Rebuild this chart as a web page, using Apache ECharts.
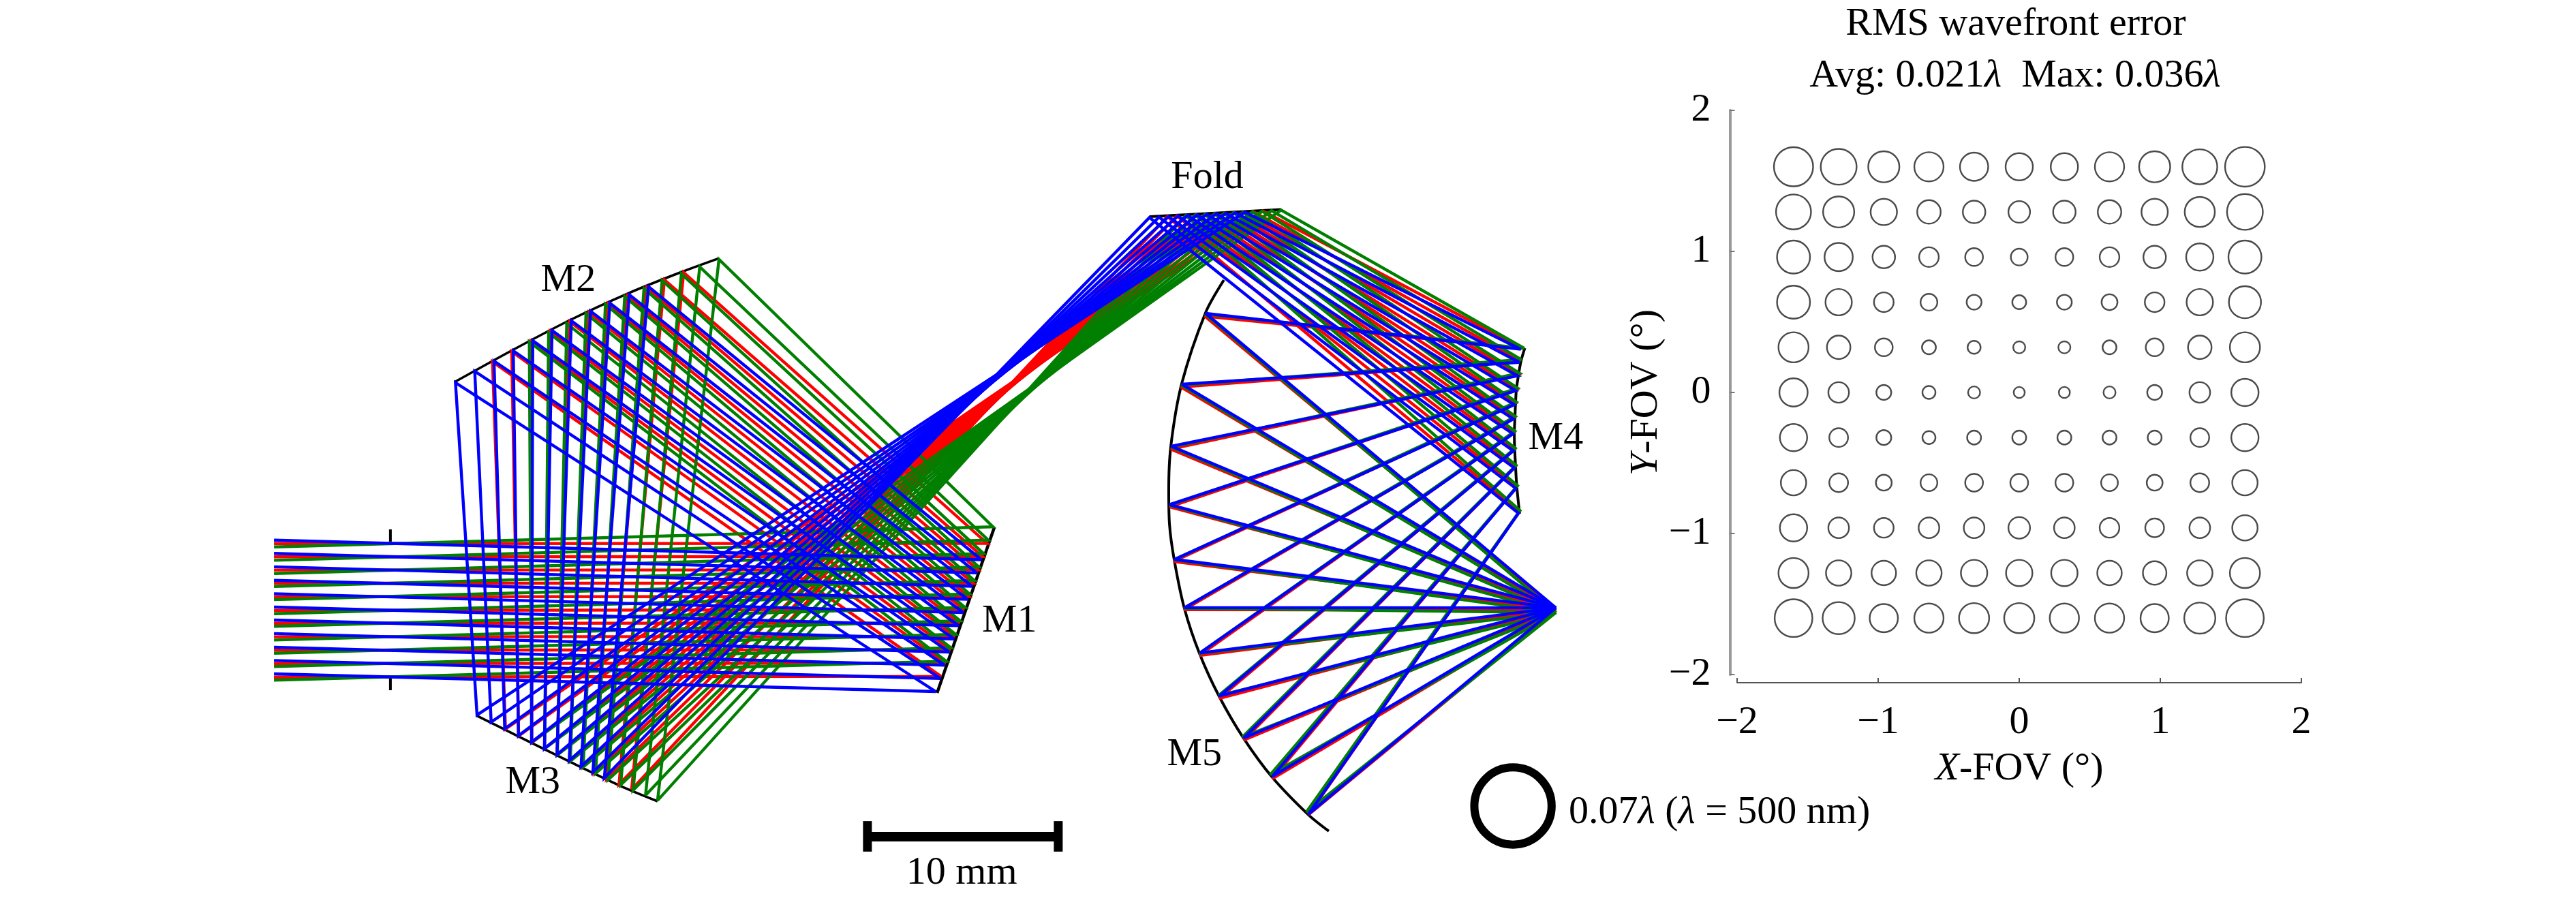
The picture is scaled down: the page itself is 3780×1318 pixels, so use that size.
<!DOCTYPE html>
<html><head><meta charset="utf-8">
<style>html,body{margin:0;padding:0;background:#fff}#c{width:3780px;height:1318px}</style>
<script src="https://cdn.jsdelivr.net/npm/echarts@6/dist/echarts.min.js"></script>
</head><body><div id="c"></div>
<script>
// ---------- RMS wavefront map ----------
const xFov = [-1.6,-1.28,-0.96,-0.64,-0.32,0,0.32,0.64,0.96,1.28,1.6];
const yFov = [1.6,1.28,0.96,0.64,0.32,0,-0.32,-0.64,-0.96,-1.28,-1.6];
const rmsWave = [
 [0.0355,0.0325,0.0282,0.0265,0.0256,0.0247,0.0247,0.0265,0.0282,0.0317,0.0360],
 [0.0317,0.0282,0.0239,0.0213,0.0204,0.0196,0.0204,0.0213,0.0239,0.0273,0.0325],
 [0.0299,0.0256,0.0204,0.0178,0.0161,0.0152,0.0161,0.0178,0.0204,0.0247,0.0299],
 [0.0299,0.0239,0.0178,0.0152,0.0135,0.0126,0.0135,0.0144,0.0178,0.0239,0.0291],
 [0.0273,0.0213,0.0161,0.0126,0.0118,0.0109,0.0109,0.0126,0.0161,0.0213,0.0273],
 [0.0256,0.0187,0.0135,0.0118,0.0109,0.0100,0.0100,0.0109,0.0135,0.0187,0.0247],
 [0.0247,0.0170,0.0135,0.0118,0.0126,0.0126,0.0126,0.0126,0.0126,0.0170,0.0247],
 [0.0230,0.0170,0.0144,0.0152,0.0161,0.0161,0.0161,0.0152,0.0144,0.0170,0.0230],
 [0.0247,0.0187,0.0178,0.0187,0.0187,0.0196,0.0187,0.0178,0.0170,0.0187,0.0230],
 [0.0273,0.0230,0.0222,0.0230,0.0239,0.0239,0.0239,0.0222,0.0213,0.0230,0.0273],
 [0.0342,0.0291,0.0256,0.0265,0.0273,0.0273,0.0265,0.0265,0.0256,0.0282,0.0342]
];
const fovTicks = [-2,-1,0,1,2];
const legendRms = 0.07;
const legendPoint = [79.29,42.25];

// ---------- Ray trace, all in mm; ray 0..10 across the pupil ----------
const startX = 14.36;
const blueStartY  = [28.31,29.01,29.71,30.42,31.12,31.82,32.50,33.21,33.93,34.62,35.32];
const redStartY   = [28.49,29.19,29.88,30.57,31.28,32.00,32.67,33.38,34.08,34.78,35.49];
const greenStartY = [28.67,29.37,30.06,30.74,31.43,32.17,32.83,33.55,34.24,34.94,35.65];

const blueM1  = [[51.43,29.34],[51.19,30.03],[50.95,30.73],[50.71,31.41],[50.48,32.11],[50.24,32.80],[50.00,33.49],[49.75,34.18],[49.51,34.87],[49.28,35.56],[49.04,36.25]];
const redM1   = [[51.73,28.48],[51.49,29.17],[51.25,29.87],[51.01,30.57],[50.76,31.27],[50.52,31.96],[50.28,32.66],[50.04,33.36],[49.80,34.06],[49.55,34.76],[49.31,35.45]];
const greenM1 = [[52.04,27.61],[51.79,28.31],[51.55,29.02],[51.30,29.72],[51.06,30.43],[50.81,31.13],[50.57,31.84],[50.32,32.54],[50.08,33.25],[49.83,33.95],[49.59,34.66]];

const blueM2  = [[33.99,15.03],[32.98,15.45],[31.96,15.89],[30.95,16.31],[29.94,16.81],[28.93,17.32],[27.92,17.86],[26.90,18.39],[25.89,18.93],[24.88,19.46],[23.87,20.06]];
const redM2   = [[35.83,14.29],[34.82,14.67],[33.89,15.07],[32.88,15.50],[31.87,15.92],[30.86,16.37],[29.85,16.85],[28.83,17.36],[27.83,17.89],[26.82,18.43],[25.81,18.96]];
const greenM2 = [[37.68,13.60],[36.67,13.99],[35.71,14.35],[34.70,14.70],[33.75,15.12],[32.74,15.54],[31.73,15.95],[30.71,16.43],[29.70,16.96],[28.75,17.44],[27.74,17.92]];

const blueM3  = [[31.67,40.78],[31.07,40.48],[30.45,40.18],[29.83,39.87],[29.19,39.56],[28.53,39.24],[27.86,38.90],[27.17,38.56],[26.45,38.20],[25.74,37.85],[25.00,37.48]];
const redM3   = [[33.10,41.38],[32.44,41.11],[31.79,40.83],[31.13,40.51],[30.49,40.19],[29.85,39.88],[29.19,39.56],[28.54,39.24],[27.87,38.92],[27.18,38.57],[26.49,38.21]];
const greenM3 = [[34.46,41.96],[33.83,41.69],[33.18,41.42],[32.53,41.14],[31.87,40.87],[31.21,40.54],[30.56,40.21],[29.89,39.89],[29.21,39.57],[28.54,39.24],[27.86,38.90]];

const blueFold  = [[60.24,11.40],[60.74,11.38],[61.24,11.35],[61.74,11.32],[62.24,11.29],[62.74,11.26],[63.24,11.23],[63.74,11.20],[64.24,11.18],[64.74,11.15],[65.24,11.12]];
const redFold   = [[61.18,11.35],[61.68,11.32],[62.18,11.29],[62.68,11.26],[63.18,11.24],[63.68,11.21],[64.18,11.18],[64.68,11.15],[65.18,11.12],[65.68,11.09],[66.18,11.06]];
const greenFold = [[62.14,11.30],[62.64,11.27],[63.14,11.24],[63.64,11.21],[64.14,11.18],[64.64,11.15],[65.14,11.13],[65.64,11.10],[66.14,11.07],[66.64,11.04],[67.14,11.01]];

const blueM4  = [[79.58,26.90],[79.44,25.60],[79.36,24.53],[79.31,23.63],[79.29,22.74],[79.31,21.96],[79.36,21.21],[79.43,20.48],[79.53,19.70],[79.62,18.99],[79.70,18.31]];
const redM4   = [[79.62,26.83],[79.48,25.53],[79.41,24.46],[79.36,23.56],[79.34,22.67],[79.36,21.89],[79.41,21.14],[79.48,20.41],[79.58,19.63],[79.67,18.92],[79.76,18.26]];
const greenM4 = [[79.66,26.76],[79.53,25.46],[79.46,24.39],[79.41,23.49],[79.39,22.60],[79.41,21.82],[79.46,21.07],[79.53,20.34],[79.63,19.56],[79.73,18.85],[79.88,18.26]];

const blueM5  = [[68.57,42.68],[66.67,40.71],[65.18,38.69],[63.90,36.49],[62.88,34.23],[62.08,31.85],[61.55,29.32],[61.29,26.45],[61.39,23.39],[61.94,20.14],[63.19,16.43]];
const redM5   = [[68.57,42.71],[66.68,40.82],[65.18,38.79],[63.89,36.61],[62.86,34.36],[62.05,31.96],[61.50,29.43],[61.29,26.57],[61.36,23.54],[61.89,20.29],[63.14,16.57]];
const greenM5 = [[68.46,42.57],[66.57,40.61],[65.11,38.64],[63.86,36.46],[62.85,34.25],[62.05,31.88],[61.54,29.34],[61.29,26.48],[61.38,23.43],[61.91,20.18],[63.16,16.46]];

const blueImage  = [81.54,31.86];
const redImage   = [81.54,31.98];
const greenImage = [81.54,32.11];

// mirror outlines (mm)
const mirrorM1   = [[52.11,27.64],[49.11,36.32]];
const mirrorM2   = [[23.87,20.00],[26.90,18.33],[29.93,16.75],[32.96,15.36],[35.71,14.26],[37.68,13.54]];
const mirrorM3   = [[25.00,37.52],[27.17,38.60],[29.82,39.91],[32.50,41.19],[34.46,42.00]];
const mirrorFold = [[60.24,11.36],[67.14,10.98]];
const mirrorM4   = [[79.91,18.25],[79.71,18.93],[79.57,19.71],[79.46,20.50],[79.39,21.96],[79.36,22.75],[79.43,24.54],[79.50,25.61],[79.64,26.93]];
const mirrorM5   = [[64.14,14.68],[63.18,16.39],[61.93,20.11],[61.36,23.39],[61.25,25.71],[61.29,27.50],[61.54,29.36],[62.07,31.89],[62.86,34.25],[63.89,36.50],[65.18,38.71],[66.68,40.75],[68.57,42.71],[69.64,43.57]];

const stopTop    = [[20.46,27.75],[20.46,28.39]];
const stopBottom = [[20.46,35.54],[20.46,36.18]];
const scaleBar   = [[45.46,43.86],[55.46,43.86]];
const scaleCapL  = [[45.46,43.04],[45.46,44.64]];
const scaleCapR  = [[55.46,43.04],[55.46,44.64]];

const textLabels = [
 ['M1',52.9,32.55],['M2',29.78,14.72],['M3',27.92,41.03],['Fold',63.27,9.3],
 ['M4',81.53,22.98],['M5',62.6,39.57],['10 mm',50.4,45.78]
];
const legendText = '{t|0.07}{i|λ}{t| (}{i|λ}{t| = 500 nm)}';
const legendTextPoint = [82.2,42.6];

const FONT = 'Liberation Serif', FS = 58;
const rich = {t:{fontFamily:FONT,fontSize:FS,fontWeight:'normal',color:'#000'}, i:{fontFamily:FONT,fontSize:FS,fontWeight:'normal',fontStyle:'italic',color:'#000'}};

function raySeries(color, startY, m1, m2, m3, fold, m4, m5, image){
  return startY.map((y,i)=>({
    type:'line', xAxisIndex:1, yAxisIndex:1, showSymbol:false, symbol:'none', clip:false,
    silent:true, animation:false,
    lineStyle:{color,width:4.4,join:'miter',miterLimit:3,cap:'butt'},
    data:[[startX,y],m1[i],m2[i],m3[i],fold[i],m4[i],m5[i],image]
  }));
}
function lineS(data,width,extra){
  return Object.assign({type:'line',xAxisIndex:1,yAxisIndex:1,showSymbol:false,symbol:'none',clip:false,silent:true,animation:false,
    lineStyle:{color:'#000',width,cap:'butt'},data},extra||{});
}
const series = [
  lineS(mirrorM1,4.5), lineS(mirrorM2,3.6,{smooth:0.3}), lineS(mirrorM3,3.6,{smooth:0.3}), lineS(mirrorFold,4),
  lineS(mirrorM4,4,{smooth:0.3}), lineS(mirrorM5,4,{smooth:0.3}),
  lineS(stopTop,4), lineS(stopBottom,4),
  ...raySeries('#ff0000',redStartY,redM1,redM2,redM3,redFold,redM4,redM5,redImage),
  ...raySeries('#007f00',greenStartY,greenM1,greenM2,greenM3,greenFold,greenM4,greenM5,greenImage),
  ...raySeries('#0000ff',blueStartY,blueM1,blueM2,blueM3,blueFold,blueM4,blueM5,blueImage),
  lineS(scaleBar,14), lineS(scaleCapL,13), lineS(scaleCapR,13),
  {type:'scatter',xAxisIndex:1,yAxisIndex:1,silent:true,animation:false,symbolSize:1,itemStyle:{color:'transparent',opacity:1},
   data:textLabels.map(l=>({name:l[0],value:[l[1],l[2]]})),
   label:{show:true,position:'inside',formatter:p=>p.name,fontFamily:FONT,fontSize:FS,color:'#000',opacity:1}},
  {type:'scatter',xAxisIndex:1,yAxisIndex:1,silent:true,animation:false,symbolSize:1,itemStyle:{color:'transparent',opacity:1},
   data:[legendTextPoint],
   label:{show:true,position:'right',distance:0,formatter:legendText,rich,opacity:1}},
  {type:'scatter',xAxisIndex:1,yAxisIndex:1,silent:true,animation:false,
   data:[legendPoint],symbolSize:legendRms*1620,
   itemStyle:{color:'transparent',borderColor:'#000',borderWidth:12,opacity:1}},
  {type:'scatter',xAxisIndex:0,yAxisIndex:0,silent:true,animation:false,
   data:yFov.flatMap((y,r)=>xFov.map((x,c)=>[x,y,rmsWave[r][c]])),
   symbolSize:v=>v[2]*1620,
   itemStyle:{color:'transparent',borderColor:'#4a4a4a',borderWidth:2.4,opacity:1}}
];
const chart = echarts.init(document.getElementById('c'),null,{renderer:'canvas',width:3780,height:1318});
const tickFmt = v => (v<0?'\u2212'+(-v):String(v));
chart.setOption({
  animation:false, backgroundColor:'#fff',
  title:[
    {text:'RMS wavefront error',left:2953,top:2,textAlign:'center',textStyle:{fontFamily:FONT,fontSize:FS,fontWeight:'normal',color:'#000'}},
    {text:'{t|Avg: 0.021}{i|λ}{t|  Max: 0.036}{i|λ}',left:2952,top:78,textAlign:'center',textStyle:{fontWeight:'normal',rich}}
  ],
  grid:[
    {left:2549,right:403,top:162,bottom:328},
    {left:0,top:0,width:3780,height:1318}
  ],
  xAxis:[
    {type:'value',gridIndex:0,min:-2,max:2,interval:1,offset:12,position:'bottom',
     axisLine:{show:true,onZero:false,lineStyle:{color:'#555',width:2}},
     axisTick:{show:true,inside:true,length:7,lineStyle:{color:'#555',width:2}},
     splitLine:{show:false},
     axisLabel:{margin:30,fontFamily:FONT,fontSize:FS,color:'#000',formatter:tickFmt},
     name:'{i|X}{t|-FOV (°)}',nameLocation:'middle',nameGap:98,nameTextStyle:{rich}},
    {type:'value',gridIndex:1,min:0,max:135,show:false}
  ],
  yAxis:[
    {type:'value',gridIndex:0,min:-2,max:2,interval:1,offset:10.5,position:'left',
     axisLine:{show:true,onZero:false,lineStyle:{color:'#999',width:4}},
     axisTick:{show:true,inside:true,length:7,lineStyle:{color:'#777',width:2}},
     splitLine:{show:false},
     axisLabel:{margin:28,fontFamily:FONT,fontSize:FS,color:'#000',formatter:tickFmt,padding:[6,0,0,0]},
     name:'{i|Y}{t|-FOV (°)}',nameLocation:'middle',nameRotate:90,nameGap:81,nameTextStyle:{rich}},
    {type:'value',gridIndex:1,min:0,max:47.0714,inverse:true,show:false}
  ],
  series
});
</script></body></html>
